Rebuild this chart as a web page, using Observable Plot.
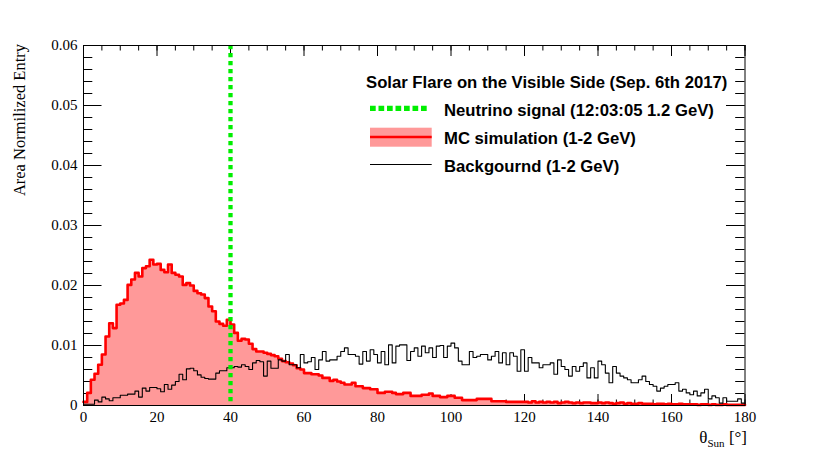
<!DOCTYPE html>
<html><head><meta charset="utf-8">
<script src="https://cdn.jsdelivr.net/npm/d3@7"></script>
<script src="https://cdn.jsdelivr.net/npm/@observablehq/plot@0.6"></script>
<style>body{margin:0;background:#fff}#chart{position:relative;width:830px;height:450px}</style>
</head><body><div id="chart"></div>
<script>
// theta_Sun bin edges (1 degree bins, 0..180)
const binEdges = d3.range(0, 181, 1);

// MC simulation (1-2 GeV), area normalized entries per bin
const mcSimulation = [
0.0006,0.0021,0.0043,0.0053,0.0068,0.0085,0.0115,0.0137,0.0129,0.0168,
0.0170,0.0176,0.0201,0.0210,0.0221,0.0215,0.0229,0.0232,0.0243,0.0235,
0.0236,0.0226,0.0222,0.0235,0.0221,0.0218,0.0215,0.0201,0.0204,0.0200,
0.0191,0.0187,0.0185,0.0179,0.0165,0.0157,0.0140,0.0136,0.0133,0.0143,
0.0135,0.0121,0.0108,0.0111,0.0110,0.0103,0.0094,0.0090,0.0090,0.0088,
0.0086,0.0084,0.0082,0.0078,0.0074,0.0072,0.0070,0.0067,0.0062,0.0060,
0.0054,0.0054,0.0052,0.0052,0.0050,0.0046,0.0046,0.0041,0.0043,0.0040,
0.0038,0.0035,0.0035,0.0038,0.0032,0.0032,0.0029,0.0029,0.0027,0.0027,
0.0021,0.0021,0.0023,0.0023,0.0021,0.0019,0.0019,0.0021,0.0021,0.0016,
0.0016,0.0016,0.0018,0.0018,0.0020,0.0016,0.0016,0.0014,0.0014,0.0016,
0.0016,0.0013,0.0013,0.0009,0.0009,0.0009,0.0009,0.0011,0.0011,0.0011,
0.0011,0.0007,0.0007,0.0007,0.0007,0.0006,0.0006,0.0006,0.0006,0.0006,
0.0006,0.0005,0.0007,0.0005,0.0006,0.0005,0.0006,0.0005,0.0006,0.0004,
0.0005,0.0006,0.0005,0.0004,0.0005,0.0004,0.0005,0.0005,0.0004,0.0004,
0.0005,0.0004,0.0005,0.0004,0.0003,0.0004,0.0005,0.0003,0.0004,0.0003,
0.0003,0.0004,0.0003,0.0003,0.0003,0.0002,0.0003,0.0003,0.0002,0.0003,
0.0002,0.0002,0.0003,0.0002,0.0002,0.0002,0.0002,0.0001,0.0002,0.0002,
0.0001,0.0002,0.0001,0.0001,0.0002,0.0001,0.0001,0.0001,0.0001,0.0001
];

// Background (1-2 GeV)
const background = [
0.0002,0.0002,0.0002,0.0009,0.0006,0.0014,0.0011,0.0008,0.0013,0.0013,
0.0017,0.0017,0.0019,0.0019,0.0024,0.0014,0.0029,0.0024,0.0030,0.0030,
0.0028,0.0023,0.0035,0.0027,0.0034,0.0040,0.0052,0.0043,0.0061,0.0062,
0.0058,0.0051,0.0047,0.0045,0.0044,0.0044,0.0054,0.0058,0.0058,0.0063,
0.0063,0.0065,0.0064,0.0068,0.0065,0.0060,0.0071,0.0075,0.0073,0.0049,
0.0074,0.0062,0.0062,0.0076,0.0074,0.0085,0.0068,0.0068,0.0063,0.0085,
0.0071,0.0073,0.0080,0.0060,0.0076,0.0090,0.0074,0.0076,0.0076,0.0082,
0.0090,0.0096,0.0085,0.0085,0.0082,0.0069,0.0090,0.0074,0.0093,0.0085,
0.0071,0.0090,0.0068,0.0101,0.0071,0.0099,0.0101,0.0101,0.0075,0.0090,
0.0096,0.0082,0.0099,0.0088,0.0096,0.0080,0.0099,0.0100,0.0080,0.0099,
0.0104,0.0096,0.0074,0.0068,0.0068,0.0090,0.0080,0.0082,0.0085,0.0085,
0.0076,0.0082,0.0090,0.0071,0.0088,0.0068,0.0088,0.0082,0.0057,0.0093,
0.0057,0.0080,0.0071,0.0071,0.0063,0.0068,0.0068,0.0071,0.0052,0.0076,
0.0065,0.0060,0.0049,0.0065,0.0057,0.0065,0.0071,0.0046,0.0063,0.0046,
0.0074,0.0068,0.0054,0.0038,0.0065,0.0054,0.0049,0.0046,0.0043,0.0038,
0.0038,0.0043,0.0049,0.0040,0.0035,0.0032,0.0024,0.0029,0.0032,0.0035,
0.0035,0.0038,0.0024,0.0027,0.0021,0.0018,0.0024,0.0016,0.0021,0.0027,
0.0011,0.0016,0.0013,0.0004,0.0013,0.0007,0.0007,0.0007,0.0011,0.0004
];

// Neutrino signal direction
const signalAngle = [40];

// Axis ticks
const xTicks = [0, 20, 40, 60, 80, 100, 120, 140, 160, 180];
const xMinorTicks = d3.range(0, 181, 5);
const yTicks = [0, 0.01, 0.02, 0.03, 0.04, 0.05, 0.06];
const yMinorTicks = d3.range(0, 31, 1).map(k => k * 0.002);

function stepRows(vals) {
  const rows = vals.map((v, i) => ({x: binEdges[i], y: v}));
  rows.push({x: binEdges[vals.length], y: vals[vals.length - 1]});
  return rows;
}
const mcRows = stepRows(mcSimulation);
const bgRows = stepRows(background);

const W = 830, H = 450, mL = 83, mR = 85.5, mT = 45, mB = 45;
const fw = W - mL - mR, fh = H - mT - mB;

const plot = Plot.plot({
  width: W, height: H,
  marginLeft: mL, marginRight: mR, marginTop: mT, marginBottom: mB,
  style: {fontFamily: "'Liberation Serif','Times New Roman',serif", fontSize: "15px", background: "white", color: "black", overflow: "visible"},
  x: {domain: [0, 180]},
  y: {domain: [0, 0.06]},
  marks: [
    Plot.tickX(xTicks, {x: d => d, insetTop: fh - 11, stroke: "black"}),
    Plot.tickX(xMinorTicks, {x: d => d, insetTop: fh - 5.5, stroke: "black"}),
    Plot.tickX(xTicks, {x: d => d, insetBottom: fh - 11, stroke: "black"}),
    Plot.tickX(xMinorTicks, {x: d => d, insetBottom: fh - 5.5, stroke: "black"}),
    Plot.tickY(yTicks, {y: d => d, insetRight: fw - 18.5, stroke: "black"}),
    Plot.tickY(yMinorTicks, {y: d => d, insetRight: fw - 9.3, stroke: "black"}),
    Plot.tickY(yTicks, {y: d => d, insetLeft: fw - 18.5, stroke: "black"}),
    Plot.tickY(yMinorTicks, {y: d => d, insetLeft: fw - 9.3, stroke: "black"}),
    Plot.areaY(mcRows, {x: "x", y: "y", curve: "step-after", fill: "#ff9999"}),
    Plot.lineY(mcRows, {x: "x", y: "y", curve: "step-after", stroke: "#ff0000", strokeWidth: 2.6}),
    Plot.lineY(bgRows, {x: "x", y: "y", curve: "step-after", stroke: "black", strokeWidth: 1.1}),
    Plot.ruleX(signalAngle, {stroke: "#00ee00", strokeWidth: 4.3, strokeDasharray: "4.3,3.7"}),
    Plot.frame({stroke: "black", strokeWidth: 1}),
    Plot.axisX({ticks: xTicks, tickSize: 0, tickPadding: 5.5, label: null, tickFormat: d => String(d)}),
    Plot.axisY({ticks: yTicks, tickSize: 0, tickPadding: 6, label: null, tickFormat: d => d === 0 ? "0" : d.toFixed(2)})
  ]
});
document.getElementById("chart").appendChild(plot);

const svg = d3.select(plot);
// Axis titles
svg.append("text")
  .attr("transform", "translate(25,44) rotate(-90)")
  .attr("text-anchor", "end")
  .attr("font-family", "'Liberation Serif','Times New Roman',serif")
  .attr("font-size", 16.5)
  .attr("fill", "black")
  .text("Area Normilized Entry");

const xt = svg.append("text")
  .attr("x", 747).attr("y", 443)
  .attr("text-anchor", "end")
  .attr("font-family", "'Liberation Serif','Times New Roman',serif")
  .attr("font-size", 17)
  .attr("fill", "black");
xt.append("tspan").text("θ");
xt.append("tspan").attr("font-size", 11).attr("dy", 3.5).text("Sun");
xt.append("tspan").attr("dy", -3.5).text(" [°]");

// Legend
const lg = svg.append("g")
  .attr("font-family", "'Liberation Sans',Arial,Helvetica,sans-serif")
  .attr("font-weight", "bold")
  .attr("font-size", 16.7)
  .attr("text-anchor", "start")
  .attr("fill", "black");
lg.append("text").attr("x", 366).attr("y", 87.7).text("Solar Flare on the Visible Side (Sep. 6th 2017)");
lg.append("line").attr("x1", 370).attr("x2", 428.3).attr("y1", 108.3).attr("y2", 108.3)
  .attr("stroke", "#00ee00").attr("stroke-width", 5.3).attr("stroke-dasharray", "5.7,2.8");
lg.append("text").attr("x", 444).attr("y", 115.7).text("Neutrino signal (12:03:05 1.2 GeV)");
lg.append("rect").attr("x", 370).attr("y", 127.7).attr("width", 61.7).attr("height", 19).attr("fill", "#ff9999");
lg.append("line").attr("x1", 370).attr("x2", 431.7).attr("y1", 137).attr("y2", 137)
  .attr("stroke", "#ff0000").attr("stroke-width", 2.7);
lg.append("text").attr("x", 444).attr("y", 144.3).text("MC simulation (1-2 GeV)");
lg.append("line").attr("x1", 370).attr("x2", 431.7).attr("y1", 164.5).attr("y2", 164.5)
  .attr("stroke", "black").attr("stroke-width", 1.1);
lg.append("text").attr("x", 444).attr("y", 172.3).text("Backgournd (1-2 GeV)");
</script>
</body></html>
